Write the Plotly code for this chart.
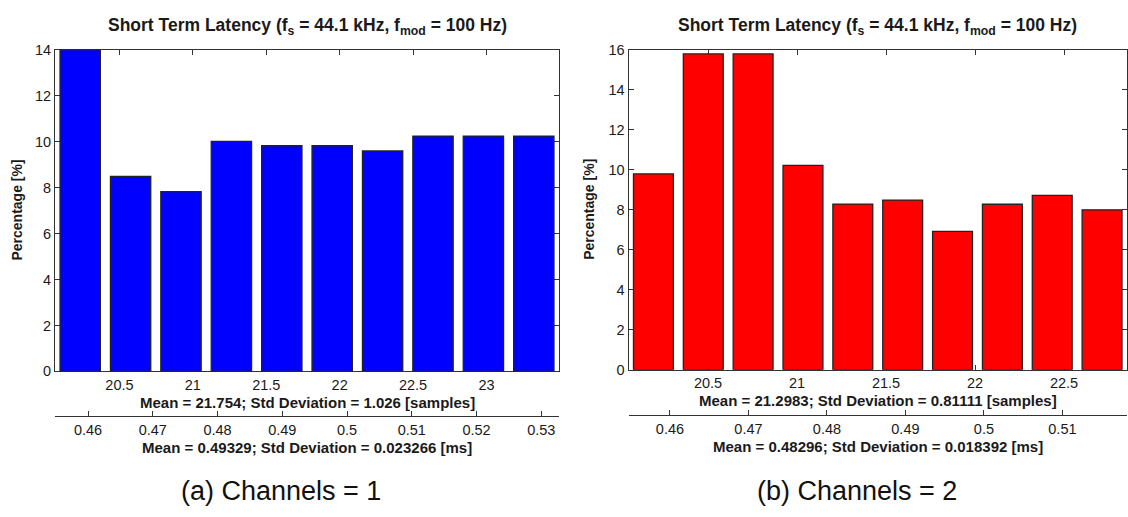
import numpy as np
import plotly.graph_objects as go

W, H = 1128, 517
SAMPLES_PER_MS = 44.1  # fs = 44.1 kHz

# ---- histogram data: percentage of frames per latency bin ----
# (a) Channels = 1
pct_ch1 = [14.0, 8.48, 7.82, 10.01, 9.82, 9.82, 9.59, 10.24, 10.24, 10.24]
lat_range_ch1 = [20.061, 23.494]          # min / max latency [samples]
samples_ticks_ch1 = [20.5, 21, 21.5, 22, 22.5, 23]
ms_ticks_ch1 = [0.46, 0.47, 0.48, 0.49, 0.5, 0.51, 0.52, 0.53]
stats_samples_ch1 = "Mean = 21.754; Std Deviation = 1.026 [samples]"
stats_ms_ch1 = "Mean = 0.49329; Std Deviation = 0.023266 [ms]"

# (b) Channels = 2
pct_ch2 = [9.80, 15.80, 15.80, 10.23, 8.29, 8.49, 6.92, 8.28, 8.72, 8.00]
lat_range_ch2 = [20.053, 22.854]
samples_ticks_ch2 = [20.5, 21, 21.5, 22, 22.5]
ms_ticks_ch2 = [0.46, 0.47, 0.48, 0.49, 0.5, 0.51]
stats_samples_ch2 = "Mean = 21.2983; Std Deviation = 0.81111 [samples]"
stats_ms_ch2 = "Mean = 0.48296; Std Deviation = 0.018392 [ms]"

y_max = [14, 16]
captions = ["(a) Channels = 1", "(b) Channels = 2"]
title_text = "<b>Short Term Latency (f<sub>s</sub> = 44.1 kHz, f<sub>mod</sub> = 100 Hz)</b>"

FONT = "Liberation Sans, Arial, Helvetica, sans-serif"
INK = "#1a1a1a"
AXIS = "#333333"


def px(x):
    return x / W


def py(y):
    return 1 - y / H


def bin_centers(lo, hi, n):
    edges = np.linspace(lo, hi, n + 1)
    return (edges[:-1] + edges[1:]) / 2


panels = [
    dict(pct=pct_ch1, rng=lat_range_ch1, sticks=samples_ticks_ch1, mticks=ms_ticks_ch1,
         s1=stats_samples_ch1, s2=stats_ms_ch1, color="#0000ff",
         dom_x=[55, 559], dom_y=[375, 43], ms_line=421.5,
         lab_x=17, cap_x=281),
    dict(pct=pct_ch2, rng=lat_range_ch2, sticks=samples_ticks_ch2, mticks=ms_ticks_ch2,
         s1=stats_samples_ch2, s2=stats_ms_ch2, color="#ff0000",
         dom_x=[628.5, 1127], dom_y=[373.3, 43.3], ms_line=420.3,
         lab_x=589, cap_x=857),
]

fig = go.Figure()
annotations = []
layout_axes = {}

for i, p in enumerate(panels):
    n = i + 1
    xa, ya, xm = f"x{'' if n == 1 else n}", f"y{'' if n == 1 else n}", f"x{n + 2}"
    centers = bin_centers(p["rng"][0], p["rng"][1], len(p["pct"]))

    fig.add_trace(go.Bar(
        x=centers, y=p["pct"], xaxis=xa, yaxis=ya,
        marker=dict(color=p["color"], line=dict(color="#222222", width=1.3)),
        showlegend=False, hoverinfo="skip",
    ))
    # carrier trace for the millisecond axis underneath
    fig.add_trace(go.Scatter(
        x=[p["rng"][0] / SAMPLES_PER_MS, p["rng"][1] / SAMPLES_PER_MS], y=[0, 0],
        xaxis=xm, yaxis=ya, mode="markers", marker=dict(opacity=0),
        showlegend=False, hoverinfo="skip",
    ))

    dx = [px(p["dom_x"][0]), px(p["dom_x"][1])]
    dy = [py(p["dom_y"][0]), py(p["dom_y"][1])]
    common = dict(showline=True, linecolor=AXIS, linewidth=1, ticks="inside",
                  ticklen=5, tickcolor=AXIS, tickwidth=1, showgrid=False,
                  zeroline=False, layer="below traces",
                  tickfont=dict(family=FONT, size=14.5, color=INK))

    layout_axes[f"xaxis{'' if n == 1 else n}"] = dict(
        domain=dx, anchor=ya, range=p["rng"], tickvals=p["sticks"],
        mirror="ticks", **common)
    layout_axes[f"yaxis{'' if n == 1 else n}"] = dict(
        domain=dy, anchor=xa, range=[0, y_max[i]], dtick=2, tick0=0,
        mirror="ticks", **common)
    layout_axes[f"xaxis{n + 2}"] = dict(
        overlaying=xa, anchor="free", position=py(p["ms_line"]), side="bottom",
        range=[p["rng"][0] / SAMPLES_PER_MS, p["rng"][1] / SAMPLES_PER_MS],
        tickvals=p["mticks"], **common)

    cx = (p["dom_x"][0] + p["dom_x"][1]) / 2
    annotations += [
        dict(text=title_text, x=px(cx), y=py(19), font=dict(family=FONT, size=17.5, color=INK)),
        dict(text=f"<b>{p['s1']}</b>", x=px(cx), y=py(p["dom_y"][0] + 32),
             font=dict(family=FONT, size=15, color=INK)),
        dict(text=f"<b>{p['s2']}</b>", x=px(cx), y=py(p["ms_line"] + 32.5),
             font=dict(family=FONT, size=15, color=INK)),
        dict(text="<b>Percentage [%]</b>", x=px(p["lab_x"]),
             y=py((p["dom_y"][0] + p["dom_y"][1]) / 2), textangle=-90,
             font=dict(family=FONT, size=14, color=INK)),
        dict(text=captions[i], x=px(p["cap_x"]), y=py(498),
             font=dict(family=FONT, size=27, color="#111111")),
    ]

for a in annotations:
    a.update(xref="paper", yref="paper", showarrow=False,
             xanchor="center", yanchor="middle")

fig.update_layout(
    width=W, height=H, margin=dict(l=0, r=0, t=0, b=0),
    paper_bgcolor="white", plot_bgcolor="white",
    bargap=0.2, annotations=annotations, **layout_axes,
)

fig.write_html("out.html")
